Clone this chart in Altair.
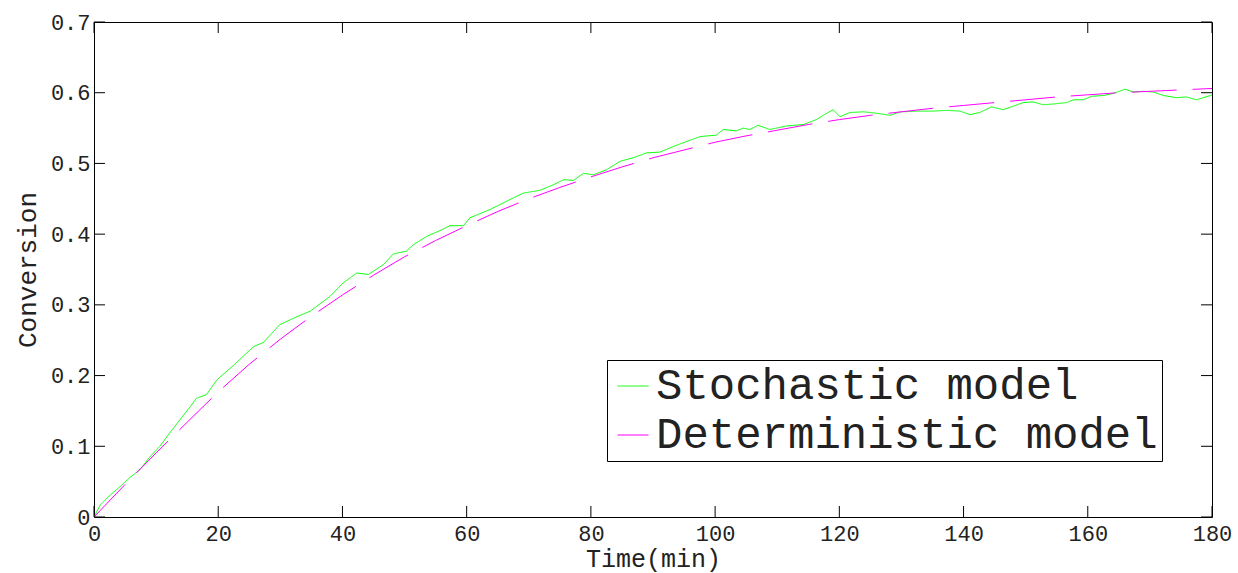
import altair as alt
import pandas as pd

# Stochastic model
stoch_t = [0, 1, 2.6, 4.2, 5.8, 7.4, 9, 10.6, 12.2, 13.8, 15.5, 16.5, 18.1, 19.8, 22.4, 25.7, 27.3,
           29.9, 32.6, 34.8, 38, 40.1, 42.3, 44.2, 46.6, 48.2, 50.3, 51.4, 53.6, 55.7, 57.3, 59.5,
           60.5, 63.8, 67, 69.1, 71.8, 74, 75.6, 77.2, 78.8, 80.4, 82.5, 84.7, 86.8, 89, 91.1, 93.3,
           95.4, 97.6, 100.2, 101.3, 103.4, 104.5, 105.6, 106.9, 108.8, 111.5, 114.2, 116.3, 117.4,
           119, 120.1, 121.7, 123.9, 126, 128.2, 129.8, 132.5, 135.1, 137.3, 139.4, 141, 142.6,
           144.5, 146.4, 148, 149.6, 151.2, 152.8, 154.4, 156.6, 157.7, 159.3, 160.6, 162.5, 164.1,
           166, 167.3, 168.9, 170.5, 172.2, 174.3, 175.9, 177.5, 179.7, 180]
stoch_v = [0, 0.017, 0.031, 0.043, 0.056, 0.067, 0.085, 0.100, 0.119, 0.137, 0.156, 0.168, 0.173,
           0.194, 0.214, 0.241, 0.247, 0.272, 0.283, 0.291, 0.312, 0.331, 0.345, 0.343, 0.357, 0.372,
           0.376, 0.385, 0.397, 0.405, 0.412, 0.412, 0.423, 0.435, 0.449, 0.458, 0.462, 0.470, 0.477,
           0.476, 0.486, 0.484, 0.491, 0.503, 0.508, 0.515, 0.516, 0.524, 0.531, 0.538, 0.540, 0.548,
           0.546, 0.550, 0.548, 0.554, 0.548, 0.553, 0.555, 0.562, 0.568, 0.576, 0.566, 0.572, 0.573,
           0.571, 0.568, 0.573, 0.574, 0.574, 0.575, 0.574, 0.569, 0.572, 0.580, 0.576, 0.581, 0.586,
           0.587, 0.583, 0.584, 0.586, 0.590, 0.590, 0.595, 0.596, 0.599, 0.605, 0.601, 0.602, 0.601,
           0.596, 0.593, 0.594, 0.590, 0.596, 0.597]

# Deterministic model
det_t = [0, 5, 10, 15, 20, 25, 30, 35, 40, 45, 50, 55, 60, 65, 70, 75, 80, 85, 90, 95, 100,
         105, 110, 115, 120, 125, 130, 135, 140, 145, 150, 155, 160, 165, 170, 175, 180]
det_v = [0, 0.046, 0.0906, 0.134, 0.177, 0.216, 0.2515, 0.284, 0.314, 0.342, 0.368, 0.391, 0.412,
         0.432, 0.450, 0.466, 0.481, 0.495, 0.508, 0.519, 0.530, 0.539, 0.547, 0.555, 0.562, 0.568,
         0.573, 0.578, 0.582, 0.586, 0.590, 0.594, 0.597, 0.600, 0.602, 0.604, 0.606]

series_names = ["Stochastic model", "Deterministic model"]
series_colors = ["#00ff00", "#ff00ff"]
x_ticks = [0, 20, 40, 60, 80, 100, 120, 140, 160, 180]
y_ticks = [0, 0.1, 0.2, 0.3, 0.4, 0.5, 0.6, 0.7]

W, H = 1118, 495
TICK = 11
FONT = "Liberation Mono"
TXT = "#222222"

df = pd.concat([
    pd.DataFrame({"t": stoch_t, "v": stoch_v, "s": series_names[0], "o": 0}),
    pd.DataFrame({"t": det_t, "v": det_v, "s": series_names[1], "o": 1}),
])

xscale = alt.Scale(domain=[0, 180], nice=False, zero=False)
yscale = alt.Scale(domain=[0, 0.7], nice=False, zero=False)

xaxis = alt.Axis(values=x_ticks, ticks=False, tickSize=0, domain=False, grid=False,
                 labelFont=FONT, labelFontSize=22, labelColor=TXT, labelPadding=6,
                 labelFlush=False, title="Time(min)", titleFont=FONT, titleFontSize=25,
                 titleFontWeight="normal", titleColor=TXT, titlePadding=2)
yaxis = alt.Axis(values=y_ticks, ticks=False, tickSize=0, domain=False, grid=False,
                 labelFont=FONT, labelFontSize=22, labelColor=TXT, labelPadding=4,
                 labelFlush=False,
                 labelExpr="datum.value == 0 ? '0' : format(datum.value, '.1f')",
                 title="Conversion", titleFont=FONT, titleFontSize=26,
                 titleFontWeight="normal", titleColor=TXT, titlePadding=10)

lines = alt.Chart(df).mark_line(strokeWidth=1, clip=True).encode(
    x=alt.X("t:Q", scale=xscale, axis=xaxis),
    y=alt.Y("v:Q", scale=yscale, axis=yaxis),
    color=alt.Color("s:N", scale=alt.Scale(domain=series_names, range=series_colors),
                    legend=alt.Legend(orient="none", legendX=513, legendY=338, title=None,
                                      strokeColor="black", fillColor="white", padding=4,
                                      labelFont=FONT, labelFontSize=44, labelColor=TXT,
                                      labelLimit=1000, symbolType="stroke", symbolSize=961,
                                      symbolStrokeWidth=1, rowPadding=5, labelOffset=1,
                                      cornerRadius=0)),
    strokeDash=alt.StrokeDash("s:N", scale=alt.Scale(domain=series_names, range=[[1, 0], [45, 16]])),
    order="o:Q",
)

xt = pd.DataFrame({"t": x_ticks})
yt = pd.DataFrame({"v": y_ticks})

bottom_ticks = alt.Chart(xt).mark_rule(color="black", strokeWidth=1).encode(
    x=alt.X("t:Q", scale=xscale, axis=xaxis), y=alt.value(H), y2=alt.value(H - TICK))
top_ticks = alt.Chart(xt).mark_rule(color="black", strokeWidth=1).encode(
    x=alt.X("t:Q", scale=xscale, axis=xaxis), y=alt.value(0), y2=alt.value(TICK))
left_ticks = alt.Chart(yt).mark_rule(color="black", strokeWidth=1).encode(
    y=alt.Y("v:Q", scale=yscale, axis=yaxis), x=alt.value(0), x2=alt.value(TICK))
right_ticks = alt.Chart(yt).mark_rule(color="black", strokeWidth=1).encode(
    y=alt.Y("v:Q", scale=yscale, axis=yaxis), x=alt.value(W), x2=alt.value(W - TICK))

chart = alt.layer(lines, bottom_ticks, top_ticks, left_ticks, right_ticks).properties(
    width=W, height=H,
    autosize=alt.AutoSizeParams(type="none"),
    padding={"left": 94, "top": 22, "right": 26, "bottom": 56},
    background="white",
).configure_view(stroke="black", strokeWidth=1)

chart.save("out.html", embed_options={"renderer": "svg", "actions": False})
